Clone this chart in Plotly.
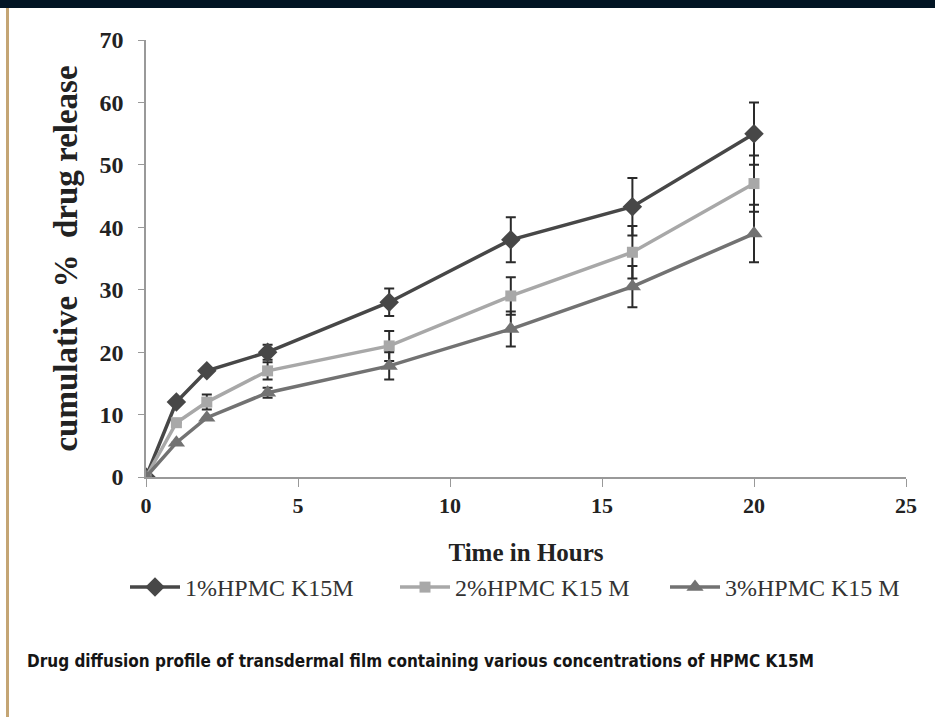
import plotly.graph_objects as go

hours = [0, 1, 2, 4, 8, 12, 16, 20]
s1 = [0, 12, 17, 20, 28, 38, 43.3, 55]
e1 = [0, 0, 0, 1.2, 2.2, 3.6, 4.6, 5.0]
s2 = [0, 8.7, 12, 17, 21, 29, 36, 47]
e2 = [0, 0, 1.2, 1.4, 2.4, 3.0, 4.2, 4.5]
s3 = [0, 5.5, 9.5, 13.5, 17.8, 23.7, 30.5, 39]
e3 = [0, 0, 0, 0.8, 2.2, 2.8, 3.3, 4.6]
names = ["1%HPMC K15M", "2%HPMC K15 M", "3%HPMC K15 M"]
x_ticks = [0, 5, 10, 15, 20, 25]
y_ticks = [0, 10, 20, 30, 40, 50, 60, 70]

W, H = 935, 717
L, R, T, B = 146, 29, 40, 240
pw, ph = W - L - R, H - T - B

def px(x):
    return (x - L) / pw

def py(y):
    return (H - B - y) / ph

fig = go.Figure()
series = [
    (s1, e1, names[0], "#474747", "diamond", 15),
    (s2, e2, names[1], "#a8a8a8", "square", 11),
    (s3, e3, names[2], "#727272", "triangle-up", 15),
]
for ys, es, nm, col, sym, sz in series:
    fig.add_trace(go.Scatter(
        x=hours, y=ys, name=nm, mode="lines+markers",
        line=dict(color=col, width=3.5),
        marker=dict(symbol=sym, size=sz, color=col),
        error_y=dict(type="data", array=es, visible=True,
                     color="#2a2a2a", thickness=2, width=5),
    ))

serif_b = dict(family="Liberation Serif", color="#222", weight="bold")

fig.update_layout(
    width=W, height=H,
    margin=dict(l=L, r=R, t=T, b=B, pad=0),
    paper_bgcolor="white", plot_bgcolor="white",
    showlegend=True,
    legend=dict(orientation="h", x=px(128), xanchor="left",
                y=py(565), yanchor="top",
                font=dict(family="Liberation Serif", size=24, color="#333"),
                entrywidth=205, entrywidthmode="pixels",
                itemwidth=50, bgcolor="rgba(0,0,0,0)"),
    xaxis=dict(range=[0, 25], tickvals=x_ticks, showgrid=False, zeroline=False,
               showline=True, linecolor="#999", linewidth=1.5,
               ticks="outside", ticklen=8, tickcolor="#999",
               tickfont=dict(size=22, **serif_b),
               title=dict(text="Time in Hours", standoff=26,
                          font=dict(size=25, **serif_b))),
    yaxis=dict(range=[0, 70], tickvals=y_ticks, showgrid=False, zeroline=False,
               showline=True, linecolor="#999", linewidth=1.5,
               ticks="outside", ticklen=6, tickcolor="#999",
               ticklabelstandoff=10,
               tickfont=dict(size=24, **serif_b),
               title=dict(text="cumulative %  drug release", standoff=12,
                          font=dict(size=33, **serif_b))),
)

fig.add_shape(type="rect", xref="paper", yref="paper",
              x0=px(0), x1=px(W), y0=py(8), y1=py(0),
              fillcolor="#021524", line_width=0, layer="above")
fig.add_shape(type="rect", xref="paper", yref="paper",
              x0=px(6), x1=px(9), y0=py(H), y1=py(8),
              fillcolor="#c4a574", line_width=0, layer="above")
fig.add_annotation(text="Drug diffusion profile of transdermal film containing various concentrations of HPMC K15M",
                   xref="paper", yref="paper", x=px(25), y=py(661),
                   xanchor="left", yanchor="middle", showarrow=False,
                   font=dict(family="DejaVu Sans Condensed, Liberation Sans Narrow, Roboto",
                             size=17, color="#151515", weight="bold"))

fig.write_html("out.html")
